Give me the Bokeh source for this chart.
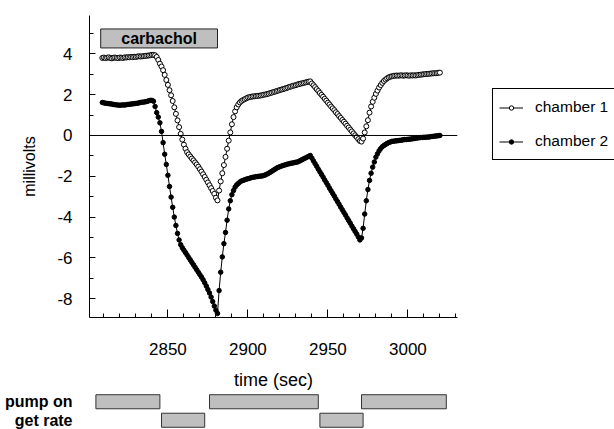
import numpy as np
from bokeh.plotting import figure
from bokeh.models import (Range1d, FactorRange, FixedTicker, Span, BoxAnnotation, Label,
                          Legend, LegendItem)
from bokeh.layouts import column
from bokeh.embed import file_html
from bokeh.resources import INLINE

FONT = "Liberation Sans"

# ---- data ----
time_sec = np.arange(2809, 3021)  # 1-s sampling

chamber1 = [
    3.80, 3.82, 3.79, 3.81, 3.83, 3.80, 3.78, 3.81, 3.82, 3.80, 3.79, 3.82, 3.81, 3.80, 3.83,
    3.82, 3.84, 3.83, 3.85, 3.84, 3.86, 3.85, 3.87, 3.88, 3.87,
    3.88, 3.89, 3.90, 3.91, 3.92, 3.93, 3.95, 3.95,
    3.93, 3.85, 3.70, 3.52, 3.38, 3.20, 2.97, 2.72, 2.48, 2.22, 1.97, 1.69, 1.38, 1.06, 0.74, 0.41, 0.08,
    -0.20, -0.45, -0.65, -0.82, -0.93, -1.03, -1.13, -1.22, -1.32, -1.42, -1.53, -1.65, -1.77, -1.90,
    -2.03, -2.17, -2.30, -2.44, -2.58, -2.72, -2.86, -3.05, -3.18,
    -2.70, -2.25, -1.85, -1.45, -1.05, -0.65, -0.25, 0.15, 0.55, 0.90, 1.18, 1.38, 1.52, 1.62, 1.69, 1.74,
    1.78, 1.82, 1.86, 1.88, 1.90, 1.91, 1.92, 1.93, 1.94, 1.95, 1.96, 1.98, 2.00, 2.01, 2.03,
    2.05, 2.08, 2.10, 2.13, 2.15, 2.18, 2.20, 2.23, 2.25, 2.27, 2.30, 2.32, 2.35, 2.38, 2.40,
    2.43, 2.45, 2.47, 2.50, 2.52, 2.54, 2.56, 2.58, 2.60, 2.62, 2.64, 2.65,
    2.55, 2.46, 2.37, 2.27, 2.18, 2.08, 1.99, 1.90, 1.80, 1.71, 1.61, 1.52, 1.42, 1.33, 1.24,
    1.14, 1.05, 0.95, 0.86, 0.76, 0.67, 0.58, 0.48, 0.39, 0.29, 0.20, 0.10, 0.01, -0.08, -0.18,
    -0.27, -0.30,
    -0.15, 0.15, 0.45, 0.75, 1.12, 1.42, 1.65, 1.85, 2.04, 2.20, 2.35, 2.47, 2.58, 2.67, 2.74,
    2.80, 2.85, 2.88, 2.90, 2.92, 2.93, 2.94, 2.93, 2.94, 2.95, 2.93, 2.94, 2.95, 2.94, 2.93,
    2.95, 2.94, 2.95, 2.94, 2.96, 2.97, 2.98, 2.99, 3.00, 3.01, 3.02, 3.02, 3.03, 3.04, 3.05,
    3.05, 3.06, 3.07, 3.08,
]

chamber2 = [
    1.62, 1.60, 1.58, 1.57, 1.56, 1.55, 1.54, 1.52, 1.51, 1.50, 1.49, 1.48, 1.49, 1.50, 1.49,
    1.51, 1.52, 1.53, 1.54, 1.55, 1.56, 1.57, 1.58, 1.60, 1.62, 1.63, 1.64, 1.65, 1.67, 1.70,
    1.72, 1.72,
    1.68, 1.42, 1.12, 0.90, 0.62, 0.20, -0.35, -0.92, -1.42, -1.95, -2.50, -3.02, -3.52, -4.00,
    -4.41, -4.80, -5.12,
    -5.35, -5.50, -5.62, -5.74, -5.86, -5.98, -6.10, -6.22, -6.34, -6.46, -6.58, -6.70, -6.82,
    -6.94, -7.07, -7.22, -7.38, -7.55, -7.72, -7.92, -8.14, -8.36, -8.56, -8.72,
    -7.60, -6.70, -5.95, -5.30, -4.75, -4.15, -3.60, -3.20, -2.90, -2.70,
    -2.53, -2.42, -2.35, -2.28, -2.23, -2.20, -2.17, -2.14, -2.12, -2.10,
    -2.07, -2.05, -2.04, -2.02, -2.01, -2.00, -1.99, -1.98, -1.96, -1.93,
    -1.89, -1.85, -1.80, -1.75, -1.70, -1.65, -1.60, -1.56, -1.53, -1.50,
    -1.47, -1.45, -1.42, -1.40, -1.38, -1.36, -1.35, -1.33, -1.31, -1.30,
    -1.26, -1.22, -1.18, -1.14, -1.10, -1.06, -1.02, -0.98,
    -1.11, -1.25, -1.38, -1.51, -1.65, -1.78, -1.91, -2.04, -2.18, -2.31,
    -2.44, -2.58, -2.71, -2.84, -2.97, -3.11, -3.24, -3.37, -3.51, -3.64,
    -3.77, -3.90, -4.04, -4.17, -4.30, -4.44, -4.57, -4.70, -4.83, -4.97,
    -5.12, -5.02,
    -4.55, -3.85, -3.20, -2.65, -2.20, -1.85, -1.55, -1.30, -1.06, -0.90,
    -0.75, -0.64, -0.55, -0.49, -0.44, -0.39, -0.35, -0.32, -0.29, -0.28,
    -0.27, -0.26, -0.25, -0.24, -0.23, -0.21, -0.20, -0.20, -0.19, -0.18,
    -0.17, -0.16, -0.15, -0.13, -0.12, -0.11, -0.10, -0.10, -0.09, -0.09,
    -0.08, -0.08, -0.06, -0.05, -0.04, -0.03, -0.02, -0.01, 0.00,
]

carbachol_on, carbachol_off = 2808, 2881

pump_on_start = [2805, 2876, 2971]
pump_on_end = [2845, 2944, 3024]
get_rate_start = [2846, 2945]
get_rate_end = [2873, 2972]

x_major = [2850, 2900, 2950, 3000]
x_minor = list(range(2810, 3040, 10))
y_major = [-8, -6, -4, -2, 0, 2, 4]
y_minor = [-9, -7, -5, -3, -1, 1, 3, 5]

BAR_FILL = "#bfbfbf"

# ---- main figure ----
xr = Range1d(2801, 3031)
p = figure(frame_width=368, frame_height=302, x_range=xr, y_range=Range1d(-8.92, 5.88),
           min_border_left=89, min_border_right=157, min_border_top=15, min_border_bottom=75,
           toolbar_location=None, output_backend="svg")
p.outline_line_color = None
p.xgrid.visible = False
p.ygrid.visible = False
p.background_fill_color = "white"
p.border_fill_color = "white"

p.add_layout(Span(location=0, dimension="width", line_color="black", line_width=1))

l1 = p.line(time_sec, chamber1, line_color="black", line_width=1)
s1 = p.scatter(time_sec, chamber1, marker="circle", size=5, fill_color="white",
               line_color="black", line_width=1)
l2 = p.line(time_sec, chamber2, line_color="black", line_width=1)
s2 = p.scatter(time_sec, chamber2, marker="circle", size=4.5, fill_color="black",
               line_color="black", line_width=1)

p.add_layout(BoxAnnotation(left=carbachol_on, right=carbachol_off, bottom=4.29, top=5.22,
                           fill_color=BAR_FILL, fill_alpha=1, line_color="#222222",
                           line_width=1, line_alpha=1))
p.add_layout(Label(x=(carbachol_on + carbachol_off) / 2, y=4.755, text="carbachol",
                   text_align="center", text_baseline="middle", text_font=FONT,
                   text_font_size="16px", text_font_style="bold", text_color="black"))

xa = p.xaxis[0]
xa.ticker = FixedTicker(ticks=x_major, minor_ticks=x_minor)
xa.axis_label = "time (sec)"
xa.axis_label_text_font = FONT
xa.axis_label_text_font_size = "18px"
xa.axis_label_text_font_style = "normal"
xa.axis_label_text_color = "black"
xa.axis_label_standoff = 12
xa.major_label_text_font = FONT
xa.major_label_text_font_size = "17px"
xa.major_label_text_color = "black"
xa.major_label_standoff = 25
xa.major_tick_in = 8
xa.major_tick_out = 0
xa.minor_tick_in = 4
xa.minor_tick_out = 0
xa.axis_line_color = "black"
xa.major_tick_line_color = "black"
xa.minor_tick_line_color = "black"

ya = p.yaxis[0]
ya.ticker = FixedTicker(ticks=y_major, minor_ticks=y_minor)
ya.major_label_overrides = {v: str(v) for v in y_major}
ya.axis_label = "millivolts"
ya.axis_label_text_font = FONT
ya.axis_label_text_font_size = "16px"
ya.axis_label_text_font_style = "normal"
ya.axis_label_text_color = "black"
ya.axis_label_standoff = 16
ya.major_label_text_font = FONT
ya.major_label_text_font_size = "17px"
ya.major_label_text_color = "black"
ya.major_label_standoff = 17
ya.major_tick_in = 6
ya.major_tick_out = 0
ya.minor_tick_in = 4
ya.minor_tick_out = 0
ya.axis_line_color = "black"
ya.major_tick_line_color = "black"
ya.minor_tick_line_color = "black"

legend = Legend(items=[LegendItem(label="chamber 1", renderers=[l1, s1]),
                       LegendItem(label="chamber 2", renderers=[l2, s2])],
                location=(35, 157), orientation="vertical",
                border_line_color="black", border_line_width=1, border_line_alpha=1,
                background_fill_color="white", background_fill_alpha=1,
                padding=6, spacing=10, margin=18,
                glyph_width=24, glyph_height=11, label_height=24, label_standoff=12,
                label_text_font=FONT, label_text_font_size="15.5px", label_text_color="black")
p.add_layout(legend, "right")

# ---- protocol bars ----
rows = ["get rate", "pump on"]
q = figure(frame_width=368, frame_height=37, x_range=xr, y_range=FactorRange(*rows),
           min_border_left=89, min_border_right=157, min_border_top=0, min_border_bottom=0,
           x_axis_location=None, toolbar_location=None, output_backend="svg")
q.outline_line_color = None
q.xgrid.visible = False
q.ygrid.visible = False
q.hbar(y=["pump on"] * len(pump_on_start), left=pump_on_start, right=pump_on_end, height=0.76,
       fill_color=BAR_FILL, line_color="#333333", line_width=1)
q.hbar(y=["get rate"] * len(get_rate_start), left=get_rate_start, right=get_rate_end, height=0.76,
       fill_color=BAR_FILL, line_color="#333333", line_width=1)
qa = q.yaxis[0]
qa.axis_line_color = None
qa.major_tick_line_color = None
qa.minor_tick_line_color = None
qa.major_label_text_font = FONT
qa.major_label_text_font_size = "16px"
qa.major_label_text_font_style = "bold"
qa.major_label_text_color = "black"
qa.major_label_standoff = 11

layout = column(p, q, spacing=0)
open("out.html", "w").write(file_html(layout, INLINE))
